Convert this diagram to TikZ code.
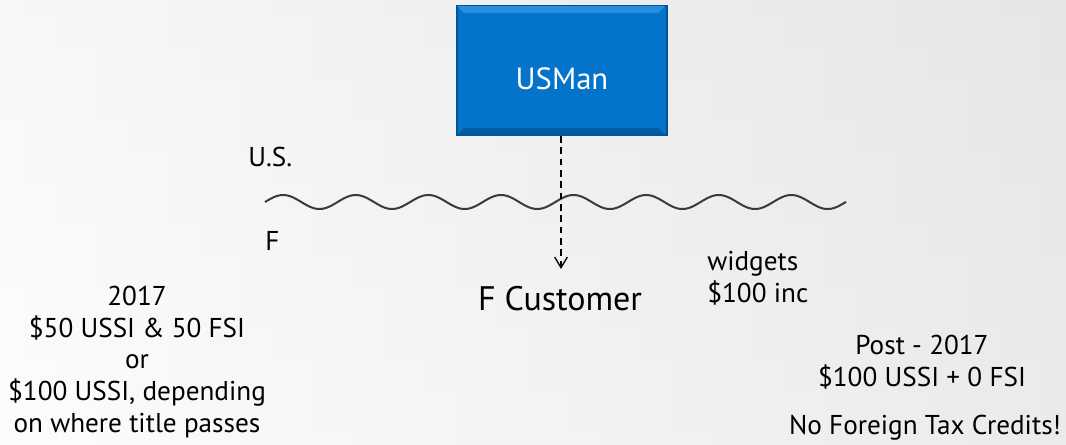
\documentclass[tikz,border=0pt]{standalone}
\usepackage{fontspec}
\setmainfont{PT Sans}
\usetikzlibrary{arrows.meta}
\definecolor{boxblue}{RGB}{4,116,202}
\definecolor{boxdark}{RGB}{0,84,150}
\definecolor{boxlight}{RGB}{40,142,222}
\definecolor{wavecol}{RGB}{58,58,58}
\tikzset{
  txt/.style={inner sep=0pt, font=\fontsize{20.4}{23.8}\selectfont, text=black},
  bigtxt/.style={inner sep=0pt, font=\fontsize{25.5}{30}\selectfont, text=black},
  usbox/.style={fill=boxblue, draw=boxdark, line width=1.5pt, minimum width=157.5pt, minimum height=96.75pt, inner sep=0pt},
  wave/.style={draw=wavecol, line width=1.5pt},
  dashline/.style={draw=black, line width=1.1pt, dash pattern=on 5pt off 3.5pt, -{Straight Barb[length=8pt,width=9.5pt,line width=1pt]}}
}
\begin{document}
\begin{tikzpicture}[x=0.75pt,y=-0.75pt]
\useasboundingbox (0,0) rectangle (1066,444);
\shade[left color=gray!3, right color=gray!26] (0,0) rectangle (1066,444);
\shade[top color=gray!10, bottom color=gray!0, opacity=0.4] (0,0) rectangle (1066,444);
% box
\node[usbox] (usman) at (562,70.5) {};
\fill[boxlight] (usman.north west) ++(1,1) -- ++(208,0) -- ++(-7,7) -- ++(-194,0) -- cycle;
\fill[boxdark!80!boxblue] (usman.south west) ++(1,-1) -- ++(208,0) -- ++(-7,-7) -- ++(-194,0) -- cycle;
\node[inner sep=0pt, font=\fontsize{23}{28}\selectfont, text=white] (usmantext) at ([yshift=-6pt]usman.center) {USMan};
% wave
\coordinate (wl) at (265,202);
\coordinate (wr) at (846,202);
\draw[wave] plot[domain=265:846, samples=300, smooth] (\x, {202 - 7*sin((\x-265)/72.6*360)});
% labels
\node[txt, anchor=west] (us) at (248,157) {U.S.};
\node[txt, anchor=west] (f) at (265,241) {F};
\node[bigtxt] (cust) at (560,299) {F Customer};
\coordinate (tip) at (561,269);
\draw[dashline] (usman.south -| tip) -- (tip);
\node[txt, anchor=west, align=left] (widgets) at (707,278) {widgets\\\$100 inc};
\node[txt, align=center] (left) at (137,362) {2017\\\$50 USSI \& 50 FSI\\or\\\$100 USSI, depending\\on where title passes};
\node[txt, align=center] (post) at (922,362) {Post - 2017\\\$100 USSI + 0 FSI};
\node[txt] (nofc) at (925,428) {No Foreign Tax Credits!};
\end{tikzpicture}
\end{document}
